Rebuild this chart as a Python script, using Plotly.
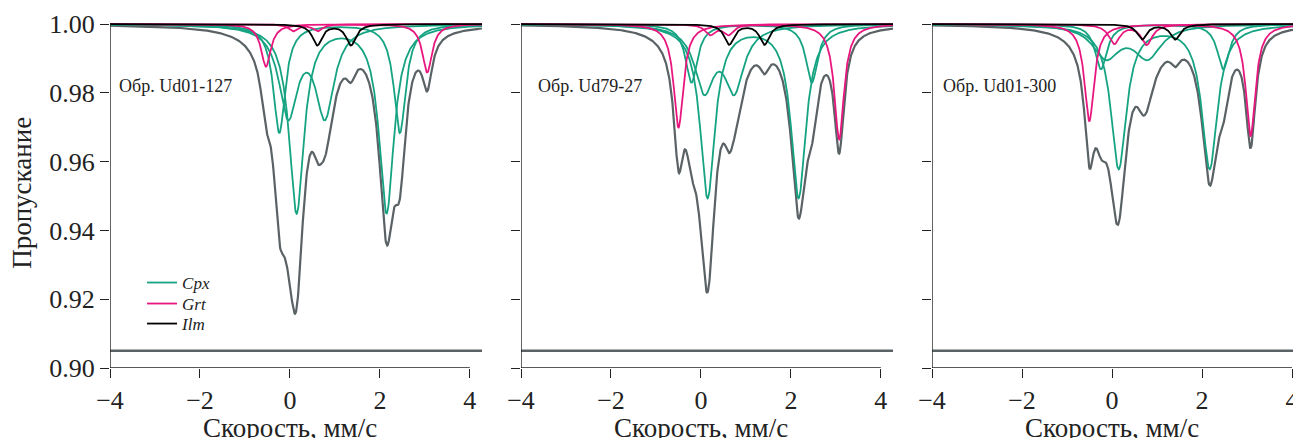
import numpy as np
import plotly.graph_objects as go

# ---------------- data ----------------
sample_labels = ["Обр. Ud01-127", "Обр. Ud79-27", "Обр. Ud01-300"]
phase_names = ["Cpx", "Grt", "Ilm"]
velocity_ticks = [-4, -2, 0, 2, 4]
velocity_ticktext = ["\u22124", "\u22122", "0", "2", "4"]
transmission_ticks = [0.90, 0.92, 0.94, 0.96, 0.98, 1.00]
velocity_max = [4.27, 4.27, 4.2]

# Doublet components per panel: left/right line position (mm/s),
# line depth (1 - transmission), line width FWHM (mm/s)
cpx_left = [[0.148, -0.237, -0.037], [0.148, -0.209, 0.073], [0.148, -0.245, -0.133]]
cpx_right = [[2.148, 2.444, 0.778], [2.170, 2.466, 0.740], [2.170, 2.473, 0.792]]
cpx_depth_left = [[0.0546, 0.0316, 0.0258], [0.0502, 0.0170, 0.0183], [0.0418, 0.0131, 0.0093]]
cpx_depth_right = [[0.0546, 0.0316, 0.0258], [0.0502, 0.0170, 0.0183], [0.0418, 0.0131, 0.0093]]
cpx_fwhm = [[0.40, 0.32, 0.50], [0.40, 0.32, 0.52], [0.42, 0.32, 0.72]]

grt_left = [[-0.533, 0.074], [-0.498, 0.207], [-0.504, 0.051]]
grt_right = [[3.052, 0.615], [3.073, 0.614], [3.080, 0.770]]
grt_depth_left = [[0.0124, 0.0020], [0.0301, 0.0030], [0.0282, 0.0056]]
grt_depth_right = [[0.0141, 0.0020], [0.0335, 0.0030], [0.0325, 0.0059]]
grt_fwhm = [[0.26, 0.26], [0.26, 0.28], [0.26, 0.30]]

ilm_left = [[0.607], [0.629], [0.667]]
ilm_right = [[1.356], [1.413], [1.407]]
ilm_depth = [[0.0061], [0.0059], [0.0044]]
ilm_fwhm = [[0.26], [0.26], [0.26]]

# residual (difference) curve, offset level
residual_level = [0.905, 0.905, 0.905]

colors = {"Cpx": "#15a382", "Grt": "#e8177f", "Ilm": "#000000"}
spectrum_color = "#5a6265"
FONT = "Liberation Serif, Times New Roman, serif"

# ---------------- figure ----------------
# page body has an 8 px margin, so the figure is offset by 8 px
W, H = 1293, 430
ml, mr, mt, mb = 102, 0, 10, 70
pw = W - ml - mr
panel_px = [(102, 474), (513, 885), (924, 1293)]
domains = [[(a - ml) / pw, (b - ml) / pw] for a, b in panel_px]
y_range = [0.90, 1.00175]
legend_ids = {"Cpx": "legend", "Grt": "legend2", "Ilm": "legend3"}
legend_y = {"Cpx": 0.2429, "Grt": 0.1829, "Ilm": 0.1257}


def doublet(v, c1, c2, d1, d2, fwhm):
    g2 = (fwhm / 2.0) ** 2
    return d1 * g2 / ((v - c1) ** 2 + g2) + d2 * g2 / ((v - c2) ** 2 + g2)


fig = go.Figure()
shapes = []
annotations = []
for p in range(3):
    xa = "x" if p == 0 else f"x{p + 1}"
    ya = "y" if p == 0 else f"y{p + 1}"
    v = np.linspace(-4.0, velocity_max[p], 900)

    comps = []
    for i in range(len(cpx_left[p])):
        comps.append(("Cpx", doublet(v, cpx_left[p][i], cpx_right[p][i], cpx_depth_left[p][i],
                                     cpx_depth_right[p][i], cpx_fwhm[p][i])))
    for i in range(len(grt_left[p])):
        comps.append(("Grt", doublet(v, grt_left[p][i], grt_right[p][i], grt_depth_left[p][i],
                                     grt_depth_right[p][i], grt_fwhm[p][i])))
    for i in range(len(ilm_left[p])):
        comps.append(("Ilm", doublet(v, ilm_left[p][i], ilm_right[p][i], ilm_depth[p][i],
                                     ilm_depth[p][i], ilm_fwhm[p][i])))

    envelope = 1.0 - sum(c for _, c in comps)
    fig.add_trace(go.Scatter(x=v, y=envelope, mode="lines", xaxis=xa, yaxis=ya,
                             line=dict(color=spectrum_color, width=2.2), showlegend=False,
                             hoverinfo="skip"))
    fig.add_trace(go.Scatter(x=[-4.0, velocity_max[p]], y=[residual_level[p]] * 2, mode="lines",
                             xaxis=xa, yaxis=ya, line=dict(color=spectrum_color, width=2.6),
                             showlegend=False, hoverinfo="skip"))
    shown = set()
    for order in phase_names:
        for name, c in comps:
            if name != order:
                continue
            show = (p == 0 and name not in shown)
            shown.add(name)
            fig.add_trace(go.Scatter(x=v, y=1.0 - c, mode="lines", xaxis=xa, yaxis=ya, name=name,
                                     line=dict(color=colors[name], width=1.8), showlegend=show,
                                     legend=legend_ids[name], hoverinfo="skip"))

    axis_common = dict(showgrid=False, zeroline=False, showline=False, ticks="outside",
                       ticklen=9, tickwidth=1.3, tickcolor="#222",
                       tickfont=dict(family=FONT, size=26, color="#222"))
    fig.layout[("xaxis" if p == 0 else f"xaxis{p + 1}")] = dict(
        domain=domains[p], range=[-4.0, velocity_max[p]], anchor=ya,
        tickvals=velocity_ticks, ticktext=velocity_ticktext, **axis_common)
    fig.layout[("yaxis" if p == 0 else f"yaxis{p + 1}")] = dict(
        domain=[0, 1], range=y_range, anchor=xa, tickvals=transmission_ticks,
        ticktext=[f"{t:.2f}" for t in transmission_ticks] if p == 0 else [""] * 6,
        showticklabels=(p == 0), **axis_common)

    # axis lines spanning the tick range
    shapes.append(dict(type="line", xref=xa, yref=ya, x0=-4, x1=4, y0=0.90, y1=0.90,
                       line=dict(color="#222", width=1.4)))
    shapes.append(dict(type="line", xref=xa, yref=ya, x0=-4, x1=-4, y0=0.90, y1=1.00,
                       line=dict(color="#222", width=1.4)))

    annotations.append(dict(text="Скорость, мм/с", xref=xa, yref="paper", x=0, y=-0.172,
                            xanchor="center", yanchor="middle", showarrow=False,
                            font=dict(family=FONT, size=27, color="#222")))
    label_x = [-3.84, -3.66, -3.79][p]
    annotations.append(dict(text=sample_labels[p], xref=xa, yref=ya, x=label_x, y=0.9820,
                            xanchor="left", yanchor="middle", showarrow=False,
                            font=dict(family=FONT, size=18, color="#222")))

annotations.append(dict(text="Пропускание", xref="paper", yref="paper", x=-0.074, y=0.5,
                        xanchor="center", yanchor="middle", textangle=-90, showarrow=False,
                        font=dict(family=FONT, size=27, color="#222")))

legend_common = dict(x=0.0269, xanchor="left", yanchor="middle", bgcolor="rgba(0,0,0,0)",
                     font=dict(family=FONT, size=17, color="#222", style="italic"),
                     itemwidth=30)
fig.update_layout(
    width=W, height=H, margin=dict(l=ml, r=mr, t=mt, b=mb),
    paper_bgcolor="white", plot_bgcolor="white",
    shapes=shapes, annotations=annotations,
    legend=dict(y=legend_y["Cpx"], **legend_common),
    legend2=dict(y=legend_y["Grt"], **legend_common),
    legend3=dict(y=legend_y["Ilm"], **legend_common),
)

fig.write_html("out.html")
